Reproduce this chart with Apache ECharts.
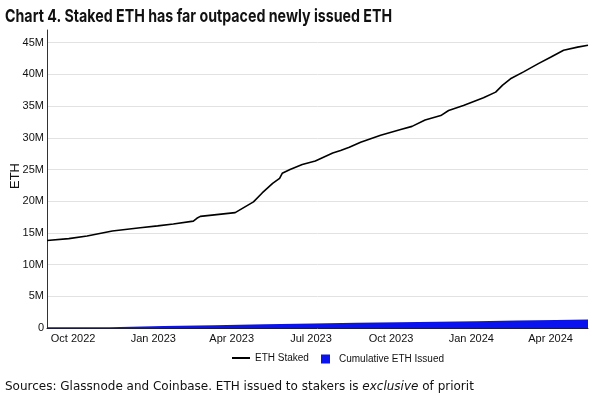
<!DOCTYPE html>
<html>
<head>
<meta charset="utf-8">
<script src="https://cdn.jsdelivr.net/npm/echarts@6/dist/echarts.min.js"></script>
<style>
html,body{margin:0;padding:0;background:#fff;}
#c{width:600px;height:404px;}
</style>
</head>
<body>
<div id="c"></div>
<script>
// ETH staked (millions)
const stakedDates = ['2022-09-15','2022-10-10','2022-10-31','2022-11-29','2022-12-31','2023-01-20','2023-02-07','2023-03-02','2023-03-06','2023-03-10','2023-04-19','2023-05-10','2023-05-20','2023-06-01','2023-06-09','2023-06-12','2023-06-21','2023-07-05','2023-07-20','2023-08-09','2023-08-18','2023-08-28','2023-09-10','2023-10-03','2023-10-26','2023-11-08','2023-11-23','2023-12-11','2023-12-20','2024-01-06','2024-01-29','2024-02-12','2024-02-20','2024-02-29','2024-03-15','2024-04-01','2024-04-15','2024-04-30','2024-05-16','2024-05-28'];
const stakedValues = [13.8,14.1,14.5,15.3,15.8,16.1,16.4,16.85,17.3,17.6,18.2,19.9,21.3,22.8,23.6,24.4,25.0,25.8,26.35,27.6,28.0,28.5,29.3,30.4,31.3,31.8,32.8,33.5,34.3,35.1,36.3,37.2,38.3,39.3,40.4,41.7,42.7,43.8,44.3,44.6];
// Cumulative ETH issued (millions), stepped
const issuedDates = ['2022-09-15','2022-11-26','2023-01-27','2023-03-26','2023-05-23','2023-07-18','2023-09-05','2023-10-24','2023-12-08','2024-01-21','2024-03-07','2024-04-21','2024-05-28'];
const issuedValues = [0.12,0.32,0.45,0.6,0.72,0.82,0.9,1.0,1.08,1.18,1.27,1.36,1.36];
// x tick labels
const xTickDates = ['2022-10-15','2023-01-15','2023-04-15','2023-07-15','2023-10-15','2024-01-15','2024-04-15'];
const xTickLabels = ['Oct 2022','Jan 2023','Apr 2023','Jul 2023','Oct 2023','Jan 2024','Apr 2024'];

const ts = s => { const p = s.split('-').map(Number); return new Date(p[0], p[1]-1, p[2]).getTime(); };
const tickTs = xTickDates.map(ts);

const chart = echarts.init(document.getElementById('c'), null, {renderer:'canvas'});
chart.setOption({
  animation:false,
  backgroundColor:'#fff',
  textStyle:{fontFamily:'Liberation Sans, Arial, sans-serif'},
  grid:{left:47, right:12, top:30, bottom:76},
  xAxis:{
    type:'value',
    min: ts('2022-09-15'), max: ts('2024-05-28'),
    axisLine:{show:true, onZero:false, lineStyle:{color:'#1a1a3a', width:1}},
    axisTick:{show:false},
    splitLine:{show:false},
    axisLabel:{
      customValues: tickTs,
      fontSize:11, color:'#111', margin:5, hideOverlap:false,
      formatter: v => { let best=0, bd=Infinity; tickTs.forEach((t,i)=>{const d=Math.abs(t-v); if(d<bd){bd=d;best=i;}}); return xTickLabels[best]; }
    }
  },
  yAxis:{
    type:'value', min:0, max:47, interval:5,
    axisLine:{show:true, lineStyle:{color:'#333', width:1}},
    axisTick:{show:false},
    splitLine:{show:true, showMaxLine:false, lineStyle:{color:'#e2e2e2', width:1}},
    axisLabel:{fontSize:11, color:'#111', margin:3, showMaxLabel:false,
      formatter: v => v===0 ? '0' : (v%5===0 ? v+'M' : '')}
  },
  legend:[
    {data:[{name:'ETH Staked'}], left:227, top:348, icon:'rect', itemWidth:18, itemHeight:2, itemGap:5,
     textStyle:{fontSize:10, color:'#111', fontFamily:'Liberation Sans, Arial, sans-serif'}},
    {data:[{name:'Cumulative ETH Issued'}], left:316, top:349, icon:'rect', itemWidth:9, itemHeight:9, itemGap:5,
     textStyle:{fontSize:10, color:'#111', fontFamily:'Liberation Sans, Arial, sans-serif', padding:[0,0,0,4]}}
  ],
  series:[
    {name:'Cumulative ETH Issued', type:'line', step:'end', symbol:'none',
     data: issuedDates.map((d,i)=>[ts(d), issuedValues[i]]),
     itemStyle:{color:'#0a12ee'}, lineStyle:{width:0, color:'#0a12ee'},
     areaStyle:{color:'#0a12ee', opacity:1}, z:1},
    {name:'ETH Staked', type:'line', symbol:'none',
     data: stakedDates.map((d,i)=>[ts(d), stakedValues[i]]),
     itemStyle:{color:'#000'}, lineStyle:{color:'#000', width:1.6}, z:3}
  ],
  graphic:[
    {type:'text', x:5, y:8, scaleX:0.79, style:{text:'Chart 4. Staked ETH has far outpaced newly issued ETH',
      font:'bold 18px Inter, Roboto, sans-serif', fill:'#111'}},
    {type:'text', left:9, top:163, rotation:Math.PI/2, style:{text:'ETH', font:'13px Liberation Sans, Arial, sans-serif', fill:'#111'}},
    {type:'text', left:5, top:381, style:{
      rich:{n:{font:'12px DejaVu Sans, Verdana, sans-serif', fill:'#111'}, i:{font:'italic 12px DejaVu Sans, Verdana, sans-serif', fill:'#111'}},
      text:'{n|Sources: Glassnode and Coinbase. ETH issued to stakers is }{i|exclusive}{n| of priorit}'}}
  ]
});
</script>
</body>
</html>
